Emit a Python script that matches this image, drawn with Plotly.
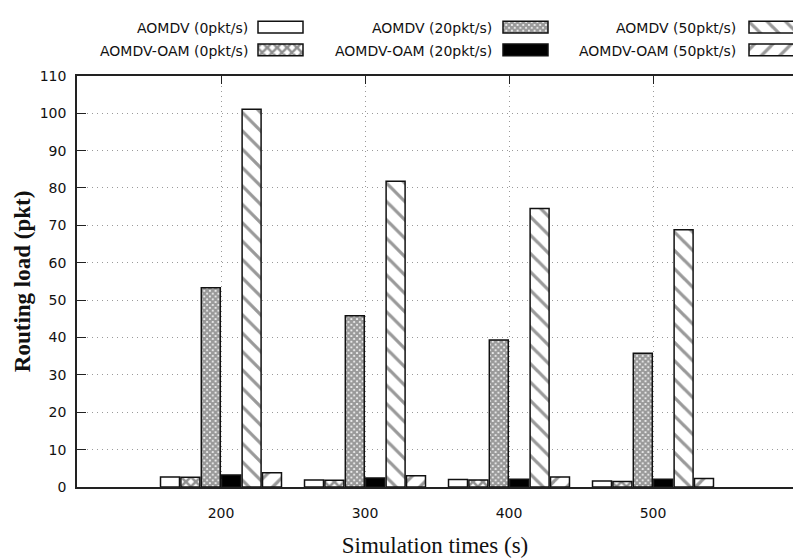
import plotly.graph_objects as go

# Simulation times (x categories) and routing load per configuration
times = [200, 300, 400, 500]
aomdv_0 = [2.7, 1.9, 2.0, 1.6]
oam_0 = [2.6, 1.8, 1.9, 1.5]
aomdv_20 = [53.3, 45.8, 39.3, 35.8]
oam_20 = [3.2, 2.4, 2.1, 2.1]
aomdv_50 = [101.1, 81.8, 74.5, 68.8]
oam_50 = [3.8, 3.0, 2.7, 2.3]

series_names = [
    "AOMDV (0pkt/s)", "AOMDV-OAM (0pkt/s)",
    "AOMDV (20pkt/s)", "AOMDV-OAM (20pkt/s)",
    "AOMDV (50pkt/s)", "AOMDV-OAM (50pkt/s)",
]
series_values = [aomdv_0, oam_0, aomdv_20, oam_20, aomdv_50, oam_50]

# Fill styles for each series (gnuplot-like patterns)
styles = [
    dict(color="white"),
    dict(color="white", pattern=dict(shape="x", size=7, solidity=0.6, fgcolor="#222", bgcolor="white")),
    dict(color="white", pattern=dict(shape="x", size=4, solidity=0.8, fgcolor="#333", bgcolor="white")),
    dict(color="black"),
    dict(color="white", pattern=dict(shape="\\", size=13, solidity=0.25, fgcolor="#333", bgcolor="white")),
    dict(color="white", pattern=dict(shape="/", size=13, solidity=0.25, fgcolor="#333", bgcolor="white")),
]

W, H = 793, 560
M_BOTTOM = 73
PAPER_H = H - M_BOTTOM
PLOT_LEFT = 77
PLOT_TOP = 69
PX_PER_100 = 144.0

fig = go.Figure()

for name, vals, st in zip(series_names, series_values, styles):
    fig.add_trace(go.Bar(
        x=times, y=vals, name=name, showlegend=False,
        marker=dict(**st, line=dict(color="#111", width=1.5)),
        xaxis="x", yaxis="y",
    ))

# Key: text on the left, swatch on the right, laid out on a pixel-unit axis pair
key_cols = [(250, 258), (494, 503), (738, 749)]
key_rows = [13.5, 36.5]
key_order = [[0, 2, 4], [1, 3, 5]]
SW_W, SW_H = 45, 12
key_font = dict(family="DejaVu Sans, Verdana, sans-serif", size=14, color="#111")
for r, row in enumerate(key_order):
    for c, idx in enumerate(row):
        text_x, sw_left = key_cols[c]
        fig.add_trace(go.Bar(
            x=[sw_left], y=[SW_H], base=[key_rows[r]], width=[SW_W], offset=0,
            marker=dict(**styles[idx], line=dict(color="#111", width=1.5)),
            xaxis="x2", yaxis="y2", showlegend=False, hoverinfo="skip",
        ))
        fig.add_annotation(
            x=text_x, y=key_rows[r] + SW_H / 2 + 1, xref="x2", yref="y2",
            text=series_names[idx], showarrow=False, xanchor="right", yanchor="middle",
            font=key_font,
        )

tick_font = dict(family="DejaVu Sans, Verdana, sans-serif", size=14, color="#111")
title_font = dict(family="Liberation Serif, Times New Roman, serif", size=23, color="#111")
x_max = 100 + (W - PLOT_LEFT) / PX_PER_100 * 100

fig.update_layout(
    width=W, height=H,
    margin=dict(l=0, r=0, t=0, b=M_BOTTOM),
    paper_bgcolor="white", plot_bgcolor="white",
    barmode="group", bargap=0.15, bargroupgap=0.07,
    xaxis=dict(
        domain=[PLOT_LEFT / W, 1], range=[100, x_max],
        tickvals=times, ticktext=[str(t) for t in times],
        showline=True, linecolor="#222", linewidth=1.5, mirror="ticks",
        ticks="inside", ticklen=8, tickcolor="#222", tickwidth=1.2,
        showgrid=True, gridcolor="#9a9a9a", griddash="1px,4px", gridwidth=1,
        zeroline=False, tickfont=tick_font, ticklabelstandoff=12,
        title=dict(text="Simulation times (s)", standoff=17, font=title_font),
    ),
    yaxis=dict(
        domain=[0, (PAPER_H - PLOT_TOP) / PAPER_H], range=[0, 110],
        tickvals=list(range(0, 111, 10)),
        showline=True, linecolor="#222", linewidth=1.5, mirror=False,
        ticks="inside", ticklen=9, tickcolor="#222", tickwidth=1.2,
        showgrid=True, gridcolor="#9a9a9a", griddash="1px,4px", gridwidth=1,
        zeroline=False, tickfont=tick_font, ticklabelstandoff=6,
        title=dict(text="<b>Routing load (pkt)</b>", standoff=3, font=title_font),
    ),
    xaxis2=dict(domain=[0, 1], range=[0, W], visible=False, anchor="y2", fixedrange=True),
    yaxis2=dict(domain=[(PAPER_H - 56) / PAPER_H, 1], range=[56, 0], visible=False, anchor="x2", fixedrange=True),
    showlegend=False,
)

fig.write_html("out.html")
